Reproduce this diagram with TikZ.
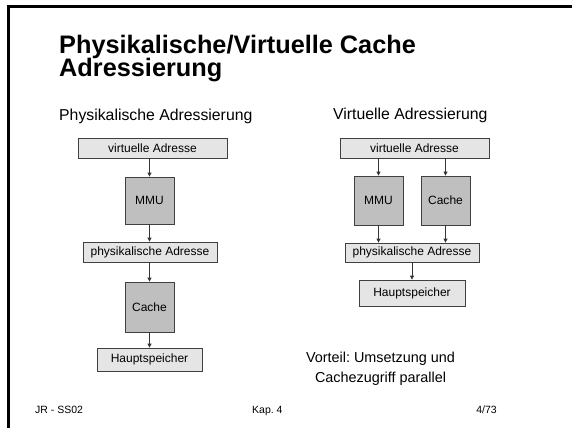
\documentclass[tikz,border=0pt]{standalone}
\usepackage{fontspec}
\setmainfont{Liberation Sans}
\usetikzlibrary{arrows.meta}
\frenchspacing
% bold title face with tightly set lines
\newcommand\slidetitlefont{\bfseries\fontsize{25.3}{22.7}\selectfont\lineskiplimit=-20pt\relax}
\begin{document}
\begin{tikzpicture}[x=1pt,y=-1pt,
  lightbox/.style={draw=black!75,line width=0.8pt,fill=black!10,inner sep=0pt,
    font=\fontsize{12}{14}\selectfont},
  darkbox/.style={draw=black!75,line width=0.8pt,fill=black!25,inner sep=0pt,
    font=\fontsize{12}{14}\selectfont},
  flow/.style={draw=black!80,line width=0.8pt,-{Triangle[length=4pt,width=4pt]}},
  heading/.style={inner sep=0pt,font=\fontsize{15.8}{18}\selectfont},
  remark/.style={inner sep=0pt,font=\fontsize{14.4}{17}\selectfont},
  foot/.style={inner sep=0pt,font=\fontsize{10.5}{12}\selectfont}]
\useasboundingbox (0,0) rectangle (572,428);
\fill[white] (0,0) rectangle (572,428);

% slide frame
\draw[line width=3pt] (8.5,428) -- (8.5,6.5) -- (572,6.5);

% title (anchored at the baseline of its last line)
\node[anchor=base west,inner sep=0pt,align=left,font=\slidetitlefont] (title) at (59,76)
  {Physikalische/Virtuelle Cache\\Adressierung};

% headings
\node[heading,anchor=base west] (h1) at (59,120) {Physikalische Adressierung};
\node[heading,anchor=base west] (h2) at (333,119.5) {Virtuelle Adressierung};

% physical addressing
\node[lightbox,minimum width=149pt,minimum height=20pt] (va1) at (152.5,148) {virtuelle Adresse};
\node[darkbox,minimum width=49pt,minimum height=47pt] (mmu1) at (149.5,200.5) {MMU};
\node[lightbox,minimum width=134pt,minimum height=20pt] (pa1) at (150,252) {physikalische Adresse};
\node[darkbox,minimum width=49pt,minimum height=50pt] (cache1) at (149.5,307) {Cache};
\node[lightbox,minimum width=105pt,minimum height=23pt] (hs1) at (149.5,359.5) {Hauptspeicher};

\draw[flow] (mmu1.north|-va1.south) -- (mmu1.north);
\draw[flow] (mmu1.south) -- (mmu1.south|-pa1.north);
\draw[flow] (cache1.north|-pa1.south) -- (cache1.north);
\draw[flow] (cache1.south) -- (cache1.south|-hs1.north);

% virtual addressing
\node[lightbox,minimum width=149pt,minimum height=20pt] (va2) at (414.5,148) {virtuelle Adresse};
\node[darkbox,minimum width=49pt,minimum height=49pt] (mmu2) at (378.5,200.5) {MMU};
\node[darkbox,minimum width=49pt,minimum height=49pt] (cache2) at (445.5,200.5) {Cache};
\node[lightbox,minimum width=134pt,minimum height=19pt] (pa2) at (412,252.5) {physikalische Adresse};
\node[lightbox,minimum width=106pt,minimum height=26pt] (hs2) at (412,293) {Hauptspeicher};

\draw[flow] (mmu2.north|-va2.south) -- (mmu2.north);
\draw[flow] (cache2.north|-va2.south) -- (cache2.north);
\draw[flow] (mmu2.south) -- (mmu2.south|-pa2.north);
\draw[flow] (cache2.south) -- (cache2.south|-pa2.north);
\draw[flow] (pa2.south) -- (hs2.north);

% remark
\node[remark,anchor=base] (v1) at (380.5,362) {Vorteil: Umsetzung und};
\node[remark,anchor=base] (v2) at (380.5,382) {Cachezugriff parallel};

% footer
\node[foot,anchor=base west] (f1) at (35,413) {JR - SS02};
\node[foot,anchor=base west] (f2) at (252,413) {Kap. 4};
\node[foot,anchor=base east] (f3) at (497,413) {4/73};
\end{tikzpicture}
\end{document}
